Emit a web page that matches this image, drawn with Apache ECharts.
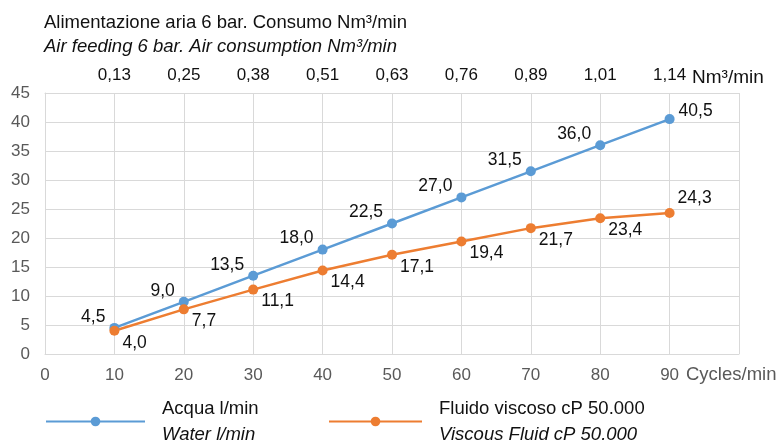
<!DOCTYPE html>
<html>
<head>
<meta charset="utf-8">
<script src="https://cdn.jsdelivr.net/npm/echarts@6/dist/echarts.min.js"></script>
<style>
  html, body { margin: 0; padding: 0; background: #fff; }
  #chart { width: 776px; height: 441px; }
</style>
</head>
<body>
<div id="chart"></div>
<script>
// cicli/min
const cycles = [10, 20, 30, 40, 50, 60, 70, 80, 90];
// consumo aria sull'asse superiore
const airLabels = ['0,13', '0,25', '0,38', '0,51', '0,63', '0,76', '0,89', '1,01', '1,14'];
const water = [4.5, 9.0, 13.5, 18.0, 22.5, 27.0, 31.5, 36.0, 40.5];
const viscous = [4.0, 7.7, 11.1, 14.4, 17.1, 19.4, 21.7, 23.4, 24.3];
const seriesNames = ['Acqua l/min', 'Fluido viscoso cP 50.000'];
const seriesNamesEn = ['Water l/min', 'Viscous Fluid cP 50.000'];

const FONT = '"Liberation Sans", Arial, Helvetica, sans-serif';
const fmt = v => v.toFixed(1).replace('.', ',');

const chart = echarts.init(document.getElementById('chart'));

// l'ultimo punto ha l'etichetta a destra
const buildData = (vals, lastLabel) => vals.map((v, i) => {
    const item = { value: [cycles[i], v] };
    if (i === vals.length - 1) item.label = lastLabel;
    return item;
});

const legendCfg = (idx, left, w) => ({
    left: left,
    top: 394,
    itemWidth: w,
    itemHeight: 12,
    selectedMode: false,
    data: [seriesNames[idx]],
    formatter: () => '{a|' + seriesNames[idx] + '}\n{b|' + seriesNamesEn[idx] + '}',
    textStyle: {
        fontFamily: FONT,
        padding: [0, 0, 0, 12],
        rich: {
            a: { fontSize: 18.5, color: '#111', lineHeight: 26, fontFamily: FONT },
            b: { fontSize: 18.5, color: '#111', lineHeight: 26, fontStyle: 'italic', fontFamily: FONT }
        }
    }
});

chart.setOption({
    animation: false,
    textStyle: { fontFamily: FONT },
    title: {
        text: 'Alimentazione aria 6 bar. Consumo Nm³/min',
        subtext: 'Air feeding 6 bar. Air consumption Nm³/min',
        left: 39,
        top: 8,
        itemGap: 5,
        textStyle: { fontSize: 18.5, fontWeight: 'normal', color: '#111', fontFamily: FONT },
        subtextStyle: { fontSize: 18.5, fontStyle: 'italic', color: '#111', fontFamily: FONT }
    },
    legend: [legendCfg(0, 40, 99), legendCfg(1, 323, 93)],
    grid: { left: 45, right: 37, top: 93, bottom: 87, outerBoundsMode: 'none', containLabel: false },
    xAxis: [{
        type: 'value',
        position: 'bottom',
        min: 0,
        max: 100,
        interval: 10,
        name: 'Cycles/min',
        nameLocation: 'end',
        nameGap: -53,
        nameTextStyle: { color: '#595959', fontSize: 18.5, verticalAlign: 'top', padding: [11, 0, 0, 0] },
        axisLine: { lineStyle: { color: '#d9d9d9' } },
        axisTick: { show: false },
        axisLabel: {
            color: '#595959', fontSize: 17, margin: 13,
            formatter: v => (v === 100 ? '' : String(v))
        },
        splitLine: { show: true, lineStyle: { color: '#d9d9d9' } }
    }, {
        type: 'value',
        position: 'top',
        min: 0,
        max: 100,
        interval: 10,
        name: 'Nm³/min',
        nameLocation: 'end',
        nameGap: -50,
        nameTextStyle: { color: '#111', fontSize: 19, verticalAlign: 'bottom', padding: [0, 0, 6, 0] },
        axisLine: { lineStyle: { color: '#d9d9d9' } },
        axisTick: { show: false },
        axisLabel: {
            color: '#111', fontSize: 17, margin: 9,
            formatter: v => {
                const i = cycles.indexOf(v);
                return i >= 0 ? airLabels[i] : '';
            }
        },
        splitLine: { show: false }
    }],
    yAxis: {
        type: 'value',
        min: 0,
        max: 45,
        interval: 5,
        axisLine: { show: true, lineStyle: { color: '#d9d9d9' } },
        axisTick: { show: false },
        axisLabel: { color: '#595959', fontSize: 17, margin: 15 },
        splitLine: { lineStyle: { color: '#d9d9d9' } }
    },
    series: [{
        name: seriesNames[0],
        type: 'line',
        xAxisIndex: 0,
        symbol: 'circle',
        symbolSize: 10,
        color: '#5b9bd5',
        lineStyle: { width: 2.5, color: '#5b9bd5' },
        itemStyle: { color: '#5b9bd5' },
        label: {
            show: true, position: 'left', distance: 4, offset: [0, -11],
            fontSize: 17.5, color: '#111', formatter: p => fmt(p.value[1])
        },
        data: buildData(water, { position: 'right', distance: 4, offset: [0, -8] })
    }, {
        name: seriesNames[1],
        type: 'line',
        xAxisIndex: 0,
        symbol: 'circle',
        symbolSize: 10,
        color: '#ed7d31',
        lineStyle: { width: 2.5, color: '#ed7d31' },
        itemStyle: { color: '#ed7d31' },
        label: {
            show: true, position: 'right', distance: 3, offset: [0, 12],
            fontSize: 17.5, color: '#111', formatter: p => fmt(p.value[1])
        },
        data: buildData(viscous, { position: 'right', distance: 3, offset: [0, -15] })
    }]
});
</script>
</body>
</html>
